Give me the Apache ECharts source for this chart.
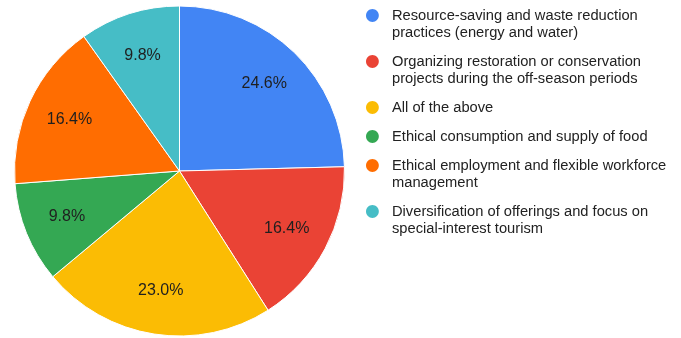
<!DOCTYPE html>
<html>
<head>
<meta charset="utf-8">
<script src="https://cdn.jsdelivr.net/npm/echarts@6/dist/echarts.min.js"></script>
<style>
  html, body { margin: 0; padding: 0; background: #fff; }
  #chart { width: 681px; height: 338px; }
</style>
</head>
<body>
<div id="chart"></div>
<script>
// Survey answers: number of respondents per practice (61 in total)
const categories = [
  'Resource-saving and waste reduction practices (energy and water)',
  'Organizing restoration or conservation projects during the off-season periods',
  'All of the above',
  'Ethical consumption and supply of food',
  'Ethical employment and flexible workforce management',
  'Diversification of offerings and focus on special-interest tourism'
];
const counts = [15, 10, 14, 6, 10, 6];
const colors = ['#4285f4', '#ea4335', '#fbbc04', '#34a853', '#ff6d01', '#46bdc6'];

const FONT = '"Liberation Sans", Arial, sans-serif';
const LEGEND_SIZE = 14.7;
const LEGEND_LH = 17;
const LEGEND_WRAP = 290;

// How many lines a legend entry wraps to
const measureCtx = document.createElement('canvas').getContext('2d');
measureCtx.font = LEGEND_SIZE + 'px ' + FONT;
function lineCount(text) {
  const words = text.split(' ');
  let lines = 1, cur = '';
  for (const w of words) {
    const test = cur ? cur + ' ' + w : w;
    if (measureCtx.measureText(test).width > LEGEND_WRAP && cur) { lines++; cur = w; }
    else cur = test;
  }
  return lines;
}

// Legend marker: a round dot beside the first text line; the invisible corner
// points set the icon box so the dot stays on the first line.
const ICON_W = 21;
const DOT_R = 6.4;
function legendIcon(lines) {
  const h = LEGEND_LH * lines;
  const cy = LEGEND_LH / 2;
  const r = DOT_R, cx = DOT_R;
  const k = 0.5523 * r;
  const dot =
    'M' + (cx - r) + ',' + cy +
    'C' + (cx - r) + ',' + (cy - k) + ' ' + (cx - k) + ',' + (cy - r) + ' ' + cx + ',' + (cy - r) +
    'C' + (cx + k) + ',' + (cy - r) + ' ' + (cx + r) + ',' + (cy - k) + ' ' + (cx + r) + ',' + cy +
    'C' + (cx + r) + ',' + (cy + k) + ' ' + (cx + k) + ',' + (cy + r) + ' ' + cx + ',' + (cy + r) +
    'C' + (cx - k) + ',' + (cy + r) + ' ' + (cx - r) + ',' + (cy + k) + ' ' + (cx - r) + ',' + cy + 'Z';
  return 'path://M0,0L0,0M' + ICON_W + ',' + h + 'L' + ICON_W + ',' + h + dot;
}

const pieData = categories.map((name, i) => ({
  name: name,
  value: counts[i],
  itemStyle: { color: colors[i] }
}));
const total = counts.reduce((a, b) => a + b, 0);

const chart = echarts.init(document.getElementById('chart'), null, { renderer: 'canvas' });
chart.setOption({
  backgroundColor: '#ffffff',
  animation: false,
  legend: {
    orient: 'vertical',
    left: 366,
    top: 7,
    padding: 0,
    itemGap: 12,
    itemWidth: ICON_W,
    itemHeight: LEGEND_LH * 2,
    selectedMode: false,
    itemStyle: { borderWidth: 0 },
    textStyle: {
      fontFamily: FONT,
      fontSize: LEGEND_SIZE,
      lineHeight: LEGEND_LH,
      color: '#222222',
      width: LEGEND_WRAP,
      overflow: 'break'
    },
    data: categories.map(name => ({ name: name, icon: legendIcon(lineCount(name)) }))
  },
  series: [
    {
      type: 'pie',
      center: [179.5, 171],
      radius: [0, 165],
      startAngle: 90,
      clockwise: true,
      avoidLabelOverlap: false,
      label: { show: false },
      labelLine: { show: false },
      itemStyle: { borderColor: '#ffffff', borderWidth: 1 },
      emphasis: { disabled: true },
      data: pieData
    },
    {
      // Percentage labels, set on a transparent ring so they sit at ~3/4 radius
      type: 'pie',
      silent: true,
      center: [179.5, 171],
      radius: [72, 165],
      startAngle: 90,
      clockwise: true,
      avoidLabelOverlap: false,
      itemStyle: { color: 'transparent', borderWidth: 0 },
      emphasis: { disabled: true },
      labelLine: { show: false },
      label: {
        show: true,
        position: 'inside',
        fontFamily: FONT,
        fontSize: 16,
        color: '#1f1f1f',
        formatter: p => (p.value / total * 100).toFixed(1) + '%'
      },
      data: categories.map((name, i) => ({ name: name, value: counts[i] }))
    }
  ]
});
</script>
</body>
</html>
